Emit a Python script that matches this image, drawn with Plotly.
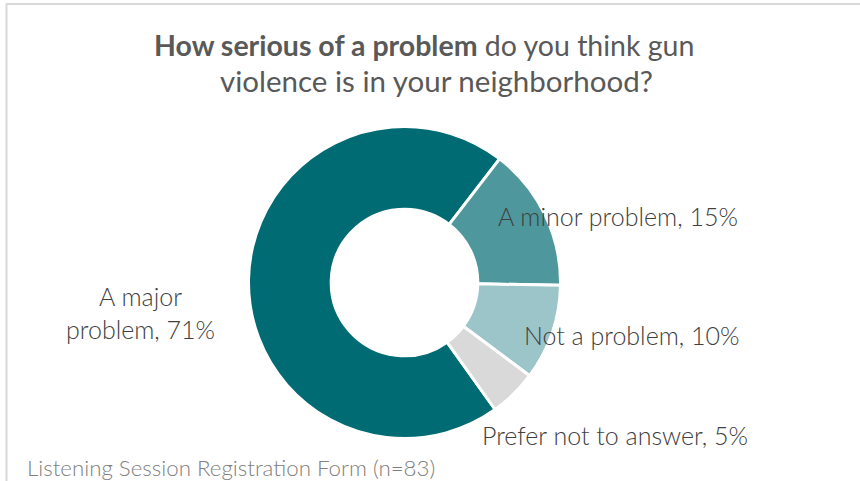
import plotly.graph_objects as go

categories = ["A major problem", "A minor problem", "Not a problem", "Prefer not to answer"]
percents = [71, 15, 10, 5]
colors = ["#006B72", "#4E979D", "#9CC5C9", "#D9D9D9"]
title_bold = "How serious of a problem"
title_rest = "do you think gun"
title_line2 = "violence is in your neighborhood?"
source_note = "Listening Session Registration Form (n=83)"

W, H = 860, 481
FONT = "Lato"

def px(x):
    return x / W

def py(y):
    return 1 - y / H

cx, cy, r = 404.5, 282.5, 156

fig = go.Figure(go.Pie(
    labels=categories,
    values=percents,
    hole=0.47,
    sort=False,
    direction="clockwise",
    rotation=144.5,
    marker=dict(colors=colors, line=dict(color="white", width=3)),
    textinfo="none",
    hoverinfo="label+percent",
    showlegend=False,
    domain=dict(x=[px(cx - r), px(cx + r)], y=[py(cy + r), py(cy - r)]),
))

labels_txt = [f"{c}, {p}%" for c, p in zip(categories, percents)]
major_parts = categories[0].split(" ")
major_txt = f"{major_parts[0]} {major_parts[1]}<br>{major_parts[2]}, {percents[0]}%"

label_pos = [
    (140.5, 312.5, major_txt),
    (617.5, 216, labels_txt[1]),
    (632, 335, labels_txt[2]),
    (615, 434.5, labels_txt[3]),
]
annotations = []
for x, y, t in label_pos:
    annotations.append(dict(
        x=px(x), y=py(y), xref="paper", yref="paper", text=t, showarrow=False,
        xanchor="center", yanchor="middle", align="center",
        font=dict(family=FONT, size=25, color="#404040", weight=300),
    ))

annotations.append(dict(
    x=px(424), y=py(45), xref="paper", yref="paper",
    text=f"<b>{title_bold}</b> {title_rest}", showarrow=False,
    xanchor="center", yanchor="middle",
    font=dict(family=FONT, size=28.5, color="#595959"),
))
annotations.append(dict(
    x=px(437), y=py(81), xref="paper", yref="paper",
    text=title_line2, showarrow=False,
    xanchor="center", yanchor="middle",
    font=dict(family=FONT, size=29.5, color="#595959"),
))
annotations.append(dict(
    x=px(24.5), y=py(467.5), xref="paper", yref="paper",
    text=source_note, showarrow=False,
    xanchor="left", yanchor="middle",
    font=dict(family=FONT, size=22.3, color="#808080", weight=300),
))

fig.update_layout(
    width=W, height=H,
    margin=dict(l=0, r=0, t=0, b=0),
    paper_bgcolor="white",
    plot_bgcolor="white",
    annotations=annotations,
    shapes=[dict(type="rect", xref="paper", yref="paper",
                 x0=px(6.5), y0=-0.05, x1=1.05, y1=py(4),
                 line=dict(color="#D9D9D9", width=2), layer="below")],
)

fig.write_html(
    "out.html",
    config={"displayModeBar": False},
    post_script="document.body.style.margin='0';document.body.style.overflow='hidden';",
)
